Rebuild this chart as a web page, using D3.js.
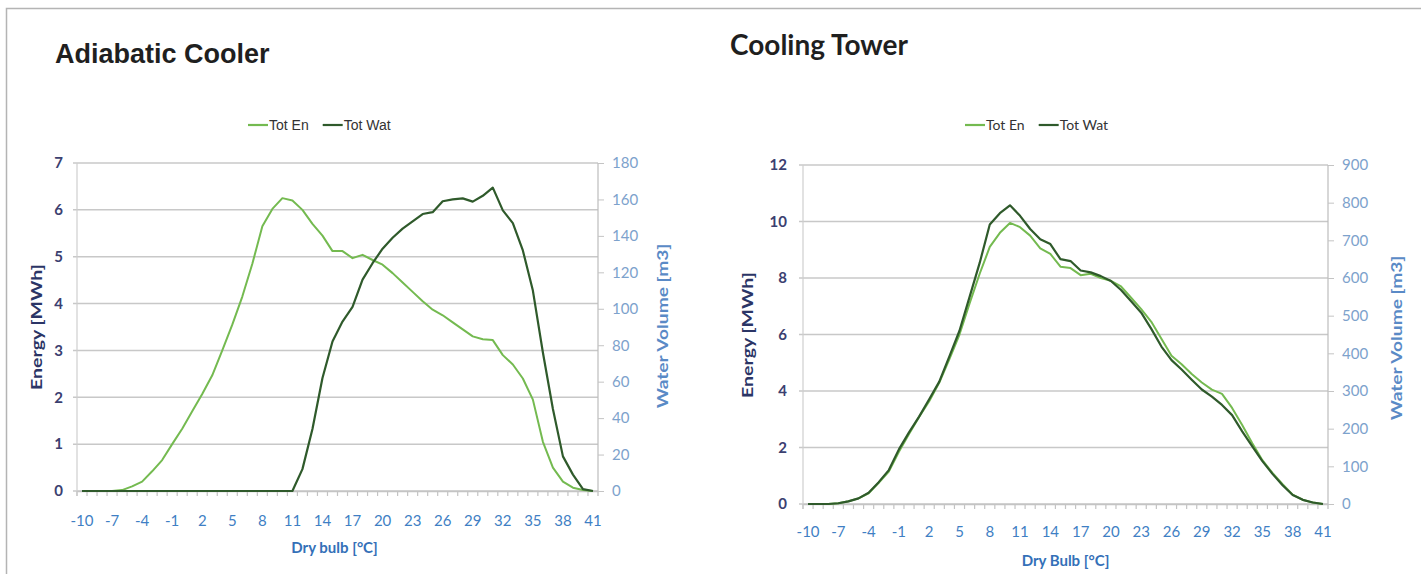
<!DOCTYPE html>
<html lang="en">
<head>
<meta charset="utf-8">
<script src="https://d3js.org/d3.v7.min.js"></script>
<style>
  html, body { margin: 0; padding: 0; background: #fff; }
  svg { display: block; }
  .tick text { font-family: Lato, "Open Sans", sans-serif; }
</style>
</head>
<body>
<script>
// dry bulb categories (°C)
var categories = [-10,-9,-8,-7,-6,-5,-4,-3,-2,-1,0,1,2,3,4,5,6,7,8,9,10,11,12,13,14,15,
                  16,17,18,19,20,21,22,23,24,25,26,27,28,29,30,31,32,33,34,35,36,37,38,39,40,41];
var xTickLabels = [-10,-7,-4,-1,2,5,8,11,14,17,20,23,26,29,32,35,38,41];

// Adiabatic cooler
var adiabaticEnergy = [0,0,0,0,0.02,0.1,0.2,0.42,0.66,1.0,1.33,1.7,2.07,2.47,3.0,3.55,4.15,4.85,5.65,6.02,
                       6.25,6.2,6.0,5.7,5.45,5.12,5.12,4.97,5.04,4.93,4.83,4.65,4.45,4.25,4.05,3.87,3.75,3.6,3.45,3.3,
                       3.24,3.22,2.9,2.7,2.4,1.95,1.05,0.5,0.2,0.07,0.02,0];
var adiabaticWater  = [0,0,0,0,0,0,0,0,0,0,0,0,0,0,0,0,0,0,0,0,
                       0,0,12,34,62,82,93,101,116,125,133,139,144,148,152,153,159,160,160.6,158.8,
                       162,166.5,154,147,132,110,76,45,19,9,1,0];
var adiabaticEnergyTicks = [0,1,2,3,4,5,6,7];
var adiabaticWaterTicks = [0,20,40,60,80,100,120,140,160,180];

// Cooling tower
var towerEnergy = [0,0,0,0.03,0.1,0.2,0.38,0.75,1.15,1.85,2.48,3.08,3.64,4.3,5.13,6.0,7.1,8.15,9.1,9.6,
                   9.95,9.8,9.5,9.05,8.85,8.4,8.35,8.1,8.15,8.0,7.9,7.7,7.3,6.9,6.45,5.85,5.25,4.95,4.6,4.3,
                   4.05,3.9,3.4,2.8,2.15,1.55,1.1,0.7,0.33,0.15,0.05,0];
var towerWater  = [0,0,0,2,7,15,30,58,90,145,190,232,278,325,392,460,550,640,742,772,
                   793,765,730,703,690,650,645,620,615,605,592,568,538,508,465,418,382,357,330,304,
                   285,263,236,193,153,114,80,50,24,11,4,0];
var towerEnergyTicks = [0,2,4,6,8,10,12];
var towerWaterTicks = [0,100,200,300,400,500,600,700,800,900];

var W = 1421, H = 574;
var lightGreen = "#74ba50", darkGreen = "#2f5a2b";
var gridColor = "#c8c8c8";

var svg = d3.select("body").append("svg").attr("width", W).attr("height", H);

// outer frame
svg.append("path")
    .attr("d", "M6.5," + H + "V8.5H" + W)
    .attr("fill", "none").attr("stroke", "#b4b4b4").attr("stroke-width", 1.5);

function drawChart(c) {
  var g = svg.append("g");

  var x = d3.scaleBand().domain(categories).range([c.x0, c.x1]).padding(0);
  var yE = d3.scaleLinear().domain([0, c.eMax]).range([c.y1, c.y0]);
  var yW = d3.scaleLinear().domain([0, c.wMax]).range([c.y1, c.y0]);
  var cx = function(d) { return x(d) + x.bandwidth() / 2; };

  // title
  g.append("text").attr("x", c.titleX).attr("y", c.titleY)
      .style("font-family", c.titleFont).style("font-weight", "bold")
      .style("font-size", c.titleSize + "px").attr("fill", "#1f1f1f")
      .text(c.title);

  // horizontal gridlines
  g.append("g").selectAll("line").data(c.eTicks).enter().append("line")
      .attr("x1", c.x0 - 4).attr("x2", c.x1)
      .attr("y1", function(d) { return yE(d); }).attr("y2", function(d) { return yE(d); })
      .attr("stroke", gridColor).attr("stroke-width", 1.5);

  // left / right axis lines
  g.append("line").attr("x1", c.x0).attr("x2", c.x0).attr("y1", c.y0).attr("y2", c.y1 + 5)
      .attr("stroke", "#cfcfcf").attr("stroke-width", 1.2);
  g.append("line").attr("x1", c.x1).attr("x2", c.x1).attr("y1", c.y0).attr("y2", c.y1 + 5)
      .attr("stroke", "#bdbdbd").attr("stroke-width", 1.2);

  // left axis labels
  var la = g.append("g").attr("transform", "translate(" + c.x0 + ",0)")
      .call(d3.axisLeft(yE).tickValues(c.eTicks).tickFormat(d3.format("d")).tickSize(0).tickPadding(c.leftPad));
  la.select(".domain").remove();
  la.selectAll("text").style("font-size", "15px").style("font-weight", "bold").attr("fill", "#3b4070");

  // right axis labels + tick dashes
  var ra = g.append("g").attr("transform", "translate(" + c.x1 + ",0)")
      .call(d3.axisRight(yW).tickValues(c.wTicks).tickSize(6).tickPadding(8));
  ra.select(".domain").remove();
  ra.selectAll("line").attr("stroke", "#c4c4c4");
  ra.selectAll("text").style("font-size", "15px").attr("fill", "#7da2cc");

  // bottom axis: minor ticks at category boundaries
  g.append("g").selectAll("line").data(categories).enter().append("line")
      .attr("x1", function(d) { return x(d); }).attr("x2", function(d) { return x(d); })
      .attr("y1", c.y1).attr("y2", c.y1 + 5)
      .attr("stroke", "#c4c4c4").attr("stroke-width", 1.2);

  var ba = g.append("g").attr("transform", "translate(0," + c.y1 + ")")
      .call(d3.axisBottom(x).tickValues(xTickLabels).tickSize(0).tickPadding(c.bottomPad));
  ba.select(".domain").attr("stroke", "#c4c4c4").attr("stroke-width", 1.5);
  ba.selectAll("text").style("font-size", "15px").attr("fill", "#3f7fc4");

  // axis titles (stretched along the text, as in the source image)
  g.append("text")
      .attr("transform", "translate(" + c.eTitleX + "," + c.eTitleY + ") rotate(-90) scale(1.22,1)")
      .attr("text-anchor", "middle").style("font-family", "Lato, sans-serif")
      .style("font-weight", "bold").style("font-size", "16px").attr("fill", "#2b3566")
      .text("Energy [MWh]");
  g.append("text")
      .attr("transform", "translate(" + c.wTitleX + "," + c.wTitleY + ") rotate(-90) scale(1.2,1)")
      .attr("text-anchor", "middle").style("font-family", "Lato, sans-serif")
      .style("font-weight", "bold").style("font-size", "16px").attr("fill", "#5a8ac6")
      .text("Water Volume [m3]");
  g.append("text").attr("x", (c.x0 + c.x1) / 2 + c.xTitleDx).attr("y", c.xTitleY)
      .attr("text-anchor", "middle").style("font-family", "Lato, sans-serif")
      .style("font-weight", "bold").style("font-size", "15px").attr("fill", "#3470b8")
      .text(c.xTitle);

  // series
  var lineE = d3.line().x(function(d, i) { return cx(categories[i]); }).y(function(d) { return yE(d); });
  var lineW = d3.line().x(function(d, i) { return cx(categories[i]); }).y(function(d) { return yW(d); });
  g.append("path").datum(c.energy).attr("d", lineE)
      .attr("fill", "none").attr("stroke", lightGreen).attr("stroke-width", 2).attr("stroke-linejoin", "round");
  g.append("path").datum(c.water).attr("d", lineW)
      .attr("fill", "none").attr("stroke", darkGreen).attr("stroke-width", 2.2).attr("stroke-linejoin", "round");

  // legend
  var lg = g.append("g").attr("transform", "translate(" + c.legendX + "," + c.legendY + ")");
  var items = [{name: "Tot En", color: lightGreen}, {name: "Tot Wat", color: darkGreen}];
  var off = 0;
  items.forEach(function(it) {
    lg.append("line").attr("x1", off).attr("x2", off + 20).attr("y1", 0).attr("y2", 0)
        .attr("stroke", it.color).attr("stroke-width", 2.2);
    var t = lg.append("text").attr("x", off + 21).attr("y", 5)
        .style("font-family", c.legendFont).style("font-size", "14px").attr("fill", "#333")
        .text(it.name);
    off += 21 + t.node().getComputedTextLength() + 14;
  });
}

drawChart({
  title: "Adiabatic Cooler", titleX: 55, titleY: 63, titleFont: "Liberation Sans, Arial, sans-serif", titleSize: 27,
  x0: 77, x1: 598, y0: 163, y1: 491, eMax: 7, wMax: 180,
  eTicks: adiabaticEnergyTicks, wTicks: adiabaticWaterTicks,
  energy: adiabaticEnergy, water: adiabaticWater,
  leftPad: 14, bottomPad: 24,
  eTitleX: 42, eTitleY: 327, wTitleX: 668, wTitleY: 326,
  xTitle: "Dry bulb [°C]", xTitleDx: -3, xTitleY: 553,
  legendX: 248, legendY: 125, legendFont: "Liberation Sans Narrow, Liberation Sans, sans-serif"
});

drawChart({
  title: "Cooling Tower", titleX: 730, titleY: 55, titleFont: "Lato, sans-serif", titleSize: 28,
  x0: 803, x1: 1328, y0: 165, y1: 504, eMax: 12, wMax: 900,
  eTicks: towerEnergyTicks, wTicks: towerWaterTicks,
  energy: towerEnergy, water: towerWater,
  leftPad: 16, bottomPad: 22,
  eTitleX: 753, eTitleY: 335, wTitleX: 1402, wTitleY: 338,
  xTitle: "Dry Bulb [°C]", xTitleDx: 0, xTitleY: 566,
  legendX: 965, legendY: 125, legendFont: "Lato, sans-serif"
});
</script>
</body>
</html>
